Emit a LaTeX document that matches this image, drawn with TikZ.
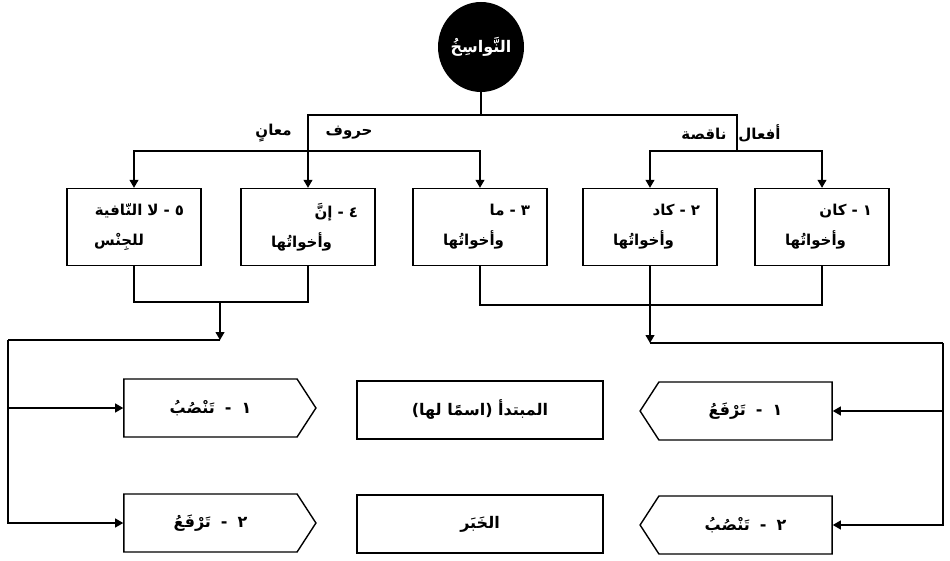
\documentclass[tikz,border=0pt]{standalone}
\usepackage{fontspec}
\newfontfamily\arabicfont[Script=Arabic]{DejaVu Sans}
\TeXXeTstate=1
\usepackage{tikz}
\usetikzlibrary{arrows.meta,shapes.geometric,shapes.symbols}
\usetikzlibrary{positioning}

\newcommand{\artxt}[1]{\beginR #1\endR}
\newcommand{\dashgap}{\hspace{10pt}-\hspace{10pt}}

\tikzset{
    kind/.style={draw, line width=1.4pt, minimum width=134pt, minimum height=77pt,
        text width=100pt, align=right, font=\arabicfont\bfseries\fontsize{15}{30}\selectfont},
    effect/.style={draw, line width=1.4pt, shape=signal, signal pointer angle=114,
        minimum width=192pt, minimum height=58pt, font=\arabicfont\bfseries\fontsize{16}{18}\selectfont},
    role/.style={draw, line width=1.4pt, minimum width=246pt, minimum height=58pt,
        font=\arabicfont\bfseries\fontsize{16}{18}\selectfont},
    branch/.style={font=\arabicfont\bfseries\fontsize{15}{18}\selectfont},
    link/.style={line width=1.1pt},
    tip/.style={-{Triangle[length=8pt,width=9pt]}}
}

\begin{document}
\begin{tikzpicture}[x=1pt,y=-1pt]
                \useasboundingbox (0,0) rectangle (950,561);
                % root
                \node[ellipse, fill=black, inner sep=0pt, minimum width=82pt, minimum height=90pt, text=white,
                    font=\arabicfont\bfseries\fontsize{16}{18}\selectfont] (root) at (481,47) {\artxt{النَّواسِخُ}};
                % the five kinds
                \node[kind] (kana) at (822,227) {\artxt{١ - كان}\\\artxt{\hspace{26pt}وأخواتُها}};
                \node[kind] (kada) at (650,227) {\artxt{٢ - كاد}\\\artxt{\hspace{26pt}وأخواتُها}};
                \node[kind] (ma) at (480,227) {\artxt{٣ - ما}\\\artxt{\hspace{26pt}وأخواتُها}};
                \node[kind] (inna) at (308,227) {\artxt{٤ - إنَّ}\\\artxt{\hspace{26pt}وأخواتُها}};
                \node[kind] (la) at (134,227) {\artxt{٥ - لا النّافية}\\\artxt{\hspace{40pt}للجِنْس}};
                % branch labels
                \node[branch] (harf) at (314,133) {\artxt{حروف\hspace{34pt}معانٍ}};
                \node[branch] (fiel) at (731,133) {\artxt{أفعال\hspace{12pt}ناقصة}};
                % what they do
                \node[effect, signal to=east] (nasbA) at (210.5,408) {\artxt{١\dashgap تَنْصُبُ}};
                \node[effect, signal to=east] (rafA) at (210.5,523) {\artxt{٢\dashgap تَرْفَعُ}};
                \node[role] (mubt) at (480,410) {\artxt{المبتدأ (اسمًا لها)}};
                \node[role] (khab) at (480,524) {\artxt{الخَبَر}};
                \node[effect, signal to=west] (rafB) at (745.5,411) {\artxt{١\dashgap تَرْفَعُ}};
                \node[effect, signal to=west] (nasbB) at (745.5,525) {\artxt{٢\dashgap تَنْصُبُ}};
                % forks
                \coordinate (top) at (481,115);
                \coordinate (verb) at (737,151);
                \coordinate (part) at (308,151);
                \coordinate (joinA) at (220,302);
                \coordinate (joinB) at (650,305);
                \coordinate (busA) at (220,340);
                \coordinate (busB) at (650,343);
                \coordinate (railA) at (8,340);
                \coordinate (railB) at (943,343);
                % connectors
                \draw[link] (root) -- (top);
                \draw[link,tip] (top) -| (inna);
                \draw[link] (top) -| (verb);
                \draw[link,tip] (verb) -| (kada);
                \draw[link,tip] (verb) -| (kana);
                \draw[link,tip] (part) -| (la);
                \draw[link,tip] (part) -| (ma);
                \draw[link] (la) |- (joinA) -| (inna);
                \draw[link,tip] (joinA) -- (busA);
                \draw[link] (busA) -- (railA);
                \draw[link,tip] (railA) |- (nasbA);
                \draw[link,tip] (railA) |- (rafA);
                \draw[link] (ma) |- (joinB) -| (kana);
                \draw[link,tip] (kada) -- (busB);
                \draw[link] (busB) -- (railB);
                \draw[link,tip] (railB) |- (rafB);
                \draw[link,tip] (railB) |- (nasbB);
\end{tikzpicture}
\end{document}
